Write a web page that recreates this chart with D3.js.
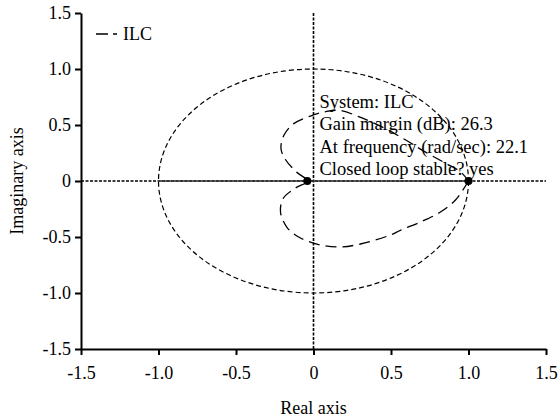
<!DOCTYPE html>
<html>
<head>
<meta charset="utf-8">
<script src="https://cdn.jsdelivr.net/npm/d3@7"></script>
<style>
  body { margin: 0; background: #fff; }
  text { font-family: "Liberation Serif", "Times New Roman", serif; fill: #000; }
</style>
</head>
<body>
<script>
var width = 559, height = 418;

// axis ticks
var xTicks = [-1.5, -1.0, -0.5, 0, 0.5, 1.0, 1.5];
var yTicks = [-1.5, -1.0, -0.5, 0, 0.5, 1.0, 1.5];

// Nyquist curve of ILC (real, imag)
var ilcRe = [1.0, 0.916, 0.819, 0.69, 0.56, 0.497, 0.303, 0.174, 0.045, -0.084, -0.168, -0.213, -0.194, -0.116, -0.04,
             -0.11, -0.18, -0.21, -0.19, -0.13, -0.02, 0.08, 0.17, 0.30, 0.46, 0.59, 0.72, 0.85, 0.95, 1.0];
var ilcIm = [0, -0.17, -0.277, -0.366, -0.44, -0.482, -0.5625, -0.589, -0.571, -0.509, -0.42, -0.277, -0.152, -0.0625, 0,
             0.08, 0.19, 0.29, 0.41, 0.51, 0.58, 0.62, 0.63, 0.57, 0.47, 0.37, 0.26, 0.16, 0.08, 0];

// gain margin markers
var markRe = [-0.04, 1.0];
var markIm = [0, 0];

var infoLines = ["System: ILC", "Gain margin (dB): 26.3", "At frequency (rad/sec): 22.1", "Closed loop stable? yes"];

var svg = d3.select("body").append("svg")
    .attr("width", width)
    .attr("height", height);

var x = d3.scaleLinear().domain([-1.5, 1.5]).range([81, 546]);
var y = d3.scaleLinear().domain([-1.5, 1.5]).range([349, 13]);

var fmt = function(d) { return d === 0 ? "0" : d3.format(".1f")(d).replace("\u2212", "-"); };

// dotted real / imaginary axes
svg.append("line")
    .attr("x1", x(-1.5)).attr("x2", x(1.5))
    .attr("y1", y(0)).attr("y2", y(0))
    .attr("stroke", "#000").attr("stroke-width", 1.6)
    .attr("stroke-dasharray", "3,1.5");
svg.append("line")
    .attr("x1", x(0)).attr("x2", x(0))
    .attr("y1", y(1.5)).attr("y2", y(-1.5))
    .attr("stroke", "#000").attr("stroke-width", 1.6)
    .attr("stroke-dasharray", "3,1.5");

// solid segment on real axis
svg.append("line")
    .attr("x1", x(-1)).attr("x2", x(1))
    .attr("y1", y(0)).attr("y2", y(0))
    .attr("stroke", "#333").attr("stroke-width", 1.6);

// unit circle
svg.append("ellipse")
    .attr("cx", x(0)).attr("cy", y(0))
    .attr("rx", x(1) - x(0)).attr("ry", y(0) - y(1))
    .attr("fill", "none")
    .attr("stroke", "#000").attr("stroke-width", 1.2)
    .attr("stroke-dasharray", "5,3");

// ILC curve
var pts = ilcRe.map(function(d, i) { return [d, ilcIm[i]]; });
var line = d3.line()
    .x(function(d) { return x(d[0]); })
    .y(function(d) { return y(d[1]); })
    .curve(d3.curveCatmullRom);
svg.append("path")
    .attr("d", line(pts))
    .attr("fill", "none")
    .attr("stroke", "#000").attr("stroke-width", 1.3)
    .attr("stroke-dasharray", "11,6");

// markers
svg.selectAll("circle.mark")
    .data(markRe)
    .enter().append("circle")
    .attr("class", "mark")
    .attr("cx", function(d) { return x(d); })
    .attr("cy", function(d, i) { return y(markIm[i]); })
    .attr("r", 4)
    .attr("fill", "#000");

// info text
svg.selectAll("text.info")
    .data(infoLines)
    .enter().append("text")
    .attr("class", "info")
    .attr("x", x(0) + 6)
    .attr("y", function(d, i) { return 108 + i * 22.3; })
    .style("font-size", "18.5px")
    .text(function(d) { return d; });

// axes
var xAxis = d3.axisBottom(x).tickValues(xTicks).tickSize(6).tickSizeOuter(0).tickFormat(fmt);
var yAxis = d3.axisLeft(y).tickValues(yTicks).tickSize(6).tickSizeOuter(0).tickFormat(fmt);

var gx = svg.append("g").attr("transform", "translate(0," + y(-1.5) + ")").call(xAxis);
var gy = svg.append("g").attr("transform", "translate(" + x(-1.5) + ",0)").call(yAxis);

[gx, gy].forEach(function(g) {
    g.select(".domain").attr("stroke", "#000").attr("stroke-width", 2);
    g.selectAll(".tick line").attr("stroke", "#000").attr("stroke-width", 2);
    g.selectAll(".tick text")
        .style("font-family", "Liberation Serif, serif")
        .style("font-size", "18px")
        .attr("fill", "#000");
});
gx.selectAll(".tick text").attr("dy", "1.15em");
gy.selectAll(".tick text").attr("x", -10);

// axis titles
svg.append("text")
    .attr("x", x(0))
    .attr("y", 414)
    .attr("text-anchor", "middle")
    .style("font-size", "18px")
    .text("Real axis");
svg.append("text")
    .attr("transform", "translate(23," + y(0) + ") rotate(-90)")
    .attr("text-anchor", "middle")
    .style("font-size", "18px")
    .text("Imaginary axis");

// legend
svg.append("line")
    .attr("x1", 96).attr("x2", 117)
    .attr("y1", 34).attr("y2", 34)
    .attr("stroke", "#000").attr("stroke-width", 1.5)
    .attr("stroke-dasharray", "12,5");
svg.append("text")
    .attr("x", 123)
    .attr("y", 40)
    .style("font-size", "18px")
    .text("ILC");
</script>
</body>
</html>
